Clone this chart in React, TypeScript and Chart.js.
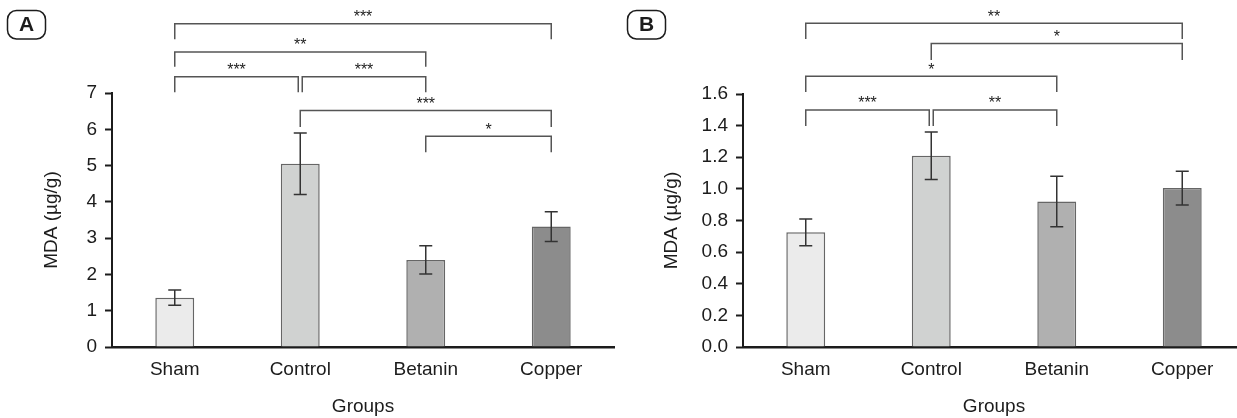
import { useEffect, useRef } from 'react';
import { Chart, registerables } from 'chart.js';

Chart.register(...registerables);

// ---------- data ----------
const groups = ['Sham', 'Control', 'Betanin', 'Copper'];

const mdaA = [1.36, 5.05, 2.4, 3.32];
const errA = [0.21, 0.85, 0.39, 0.41];
const yTicksA = [0, 1, 2, 3, 4, 5, 6, 7];

const mdaB = [0.725, 1.21, 0.92, 1.005];
const errB = [0.085, 0.15, 0.16, 0.107];
const yTicksB = [0, 0.2, 0.4, 0.6, 0.8, 1.0, 1.2, 1.4, 1.6];

const barColors = ['#ebebeb', '#d0d2d1', '#b0b0b0', '#8c8c8c'];

// significance brackets: category indices, line level and leg end (in y units)
const bracketsA = [
  { from: 0, to: 3, y: 8.91, leg: 8.48, label: '***' },
  { from: 0, to: 2, y: 8.13, leg: 7.72, label: '**' },
  { from: 0, to: 1, y: 7.45, leg: 7.02, label: '***' },
  { from: 1, to: 2, y: 7.45, leg: 7.02, label: '***' },
  { from: 1, to: 3, y: 6.52, leg: 6.06, label: '***' },
  { from: 2, to: 3, y: 5.81, leg: 5.37, label: '*' },
];

const bracketsB = [
  { from: 0, to: 3, y: 2.047, leg: 1.948, label: '**' },
  { from: 1, to: 3, y: 1.92, leg: 1.815, label: '*' },
  { from: 0, to: 2, y: 1.712, leg: 1.613, label: '*' },
  { from: 0, to: 1, y: 1.499, leg: 1.398, label: '***' },
  { from: 1, to: 2, y: 1.499, leg: 1.398, label: '**' },
];

const FONT = "'Liberation Sans', Arial, Helvetica, sans-serif";
const INK = '#1c1c1c';

type Bracket = { from: number; to: number; y: number; leg: number; label: string };

type PanelOpts = {
  letter: string;
  values: number[];
  errors: number[];
  ticks: number[];
  max: number;
  fmt: (v: number) => string;
  brackets: Bracket[];
  top: number;
  axisW: number;
  padRight: number;
};

function annotPlugin(p: PanelOpts) {
  return {
    id: 'annot' + p.letter,
    afterDatasetsDraw(chart: any) {
      const ctx = chart.ctx;
      const meta = chart.getDatasetMeta(0);
      const ys = chart.scales.y;
      ctx.save();
      ctx.strokeStyle = '#333';
      ctx.lineWidth = 1.5;
      p.values.forEach((v, i) => {
        const x = meta.data[i].x;
        const yt = ys.getPixelForValue(v + p.errors[i]);
        const yb = ys.getPixelForValue(v - p.errors[i]);
        const cap = 6.5;
        ctx.beginPath();
        ctx.moveTo(x, yt);
        ctx.lineTo(x, yb);
        ctx.moveTo(x - cap, yt);
        ctx.lineTo(x + cap, yt);
        ctx.moveTo(x - cap, yb);
        ctx.lineTo(x + cap, yb);
        ctx.stroke();
      });
      ctx.restore();
    },
    afterDraw(chart: any) {
      const ctx = chart.ctx;
      const meta = chart.getDatasetMeta(0);
      const ys = chart.scales.y;
      ctx.save();
      // brackets
      p.brackets.forEach((b) => {
        let x1 = meta.data[b.from].x;
        let x2 = meta.data[b.to].x;
        if (p.brackets.some((o) => o !== b && o.to === b.from && o.y === b.y)) x1 += 2;
        if (p.brackets.some((o) => o !== b && o.from === b.to && o.y === b.y)) x2 -= 2;
        const yl = ys.getPixelForValue(b.y);
        const yg = ys.getPixelForValue(b.leg);
        ctx.strokeStyle = '#555';
        ctx.lineWidth = 1.5;
        ctx.beginPath();
        ctx.moveTo(x1, yg);
        ctx.lineTo(x1, yl);
        ctx.lineTo(x2, yl);
        ctx.lineTo(x2, yg);
        ctx.stroke();
        ctx.fillStyle = INK;
        ctx.font = `16px ${FONT}`;
        ctx.textAlign = 'center';
        ctx.textBaseline = 'alphabetic';
        ctx.fillText(b.label, (x1 + x2) / 2, yl - 1.5);
      });
      // panel letter
      ctx.strokeStyle = INK;
      ctx.lineWidth = 1.5;
      ctx.beginPath();
      (ctx as any).roundRect(7.5, 10.5, 38, 28.5, 9);
      ctx.stroke();
      ctx.fillStyle = INK;
      ctx.font = `bold 21px ${FONT}`;
      ctx.textAlign = 'center';
      ctx.textBaseline = 'middle';
      ctx.fillText(p.letter, 26.5, 25.5);
      ctx.restore();
    },
  };
}

function buildConfig(p: PanelOpts): any {
  return {
    type: 'bar',
    data: {
      labels: groups,
      datasets: [
        {
          data: p.values,
          backgroundColor: barColors,
          borderColor: '#666',
          borderWidth: 1.5,
          categoryPercentage: 1,
          barPercentage: 0.31,
        },
      ],
    },
    options: {
      animation: false,
      responsive: false,
      devicePixelRatio: 1,
      layout: { padding: { top: p.top, right: p.padRight, left: 0, bottom: 0 } },
      plugins: { legend: { display: false }, tooltip: { enabled: false } },
      scales: {
        x: {
          grid: { display: false },
          border: { display: true, color: INK, width: 2.5 },
          ticks: { color: INK, font: { family: FONT, size: 19 }, padding: 3 },
          title: {
            display: true,
            text: 'Groups',
            color: INK,
            font: { family: FONT, size: 19 },
            padding: { top: 0, bottom: 0 },
          },
          afterFit: (s: any) => {
            s.height = 71;
          },
        },
        y: {
          min: 0,
          max: p.max,
          afterBuildTicks: (s: any) => {
            s.ticks = p.ticks.map((v) => ({ value: v }));
          },
          ticks: {
            color: INK,
            font: { family: FONT, size: 19 },
            padding: 8,
            callback: (v: any) => p.fmt(Number(v)),
          },
          grid: {
            display: true,
            drawOnChartArea: false,
            drawTicks: true,
            tickLength: 7,
            tickColor: INK,
            tickWidth: 2,
          },
          border: { display: true, color: INK, width: 2 },
          title: {
            display: true,
            text: 'MDA (µg/g)',
            color: INK,
            font: { family: FONT, size: 19 },
            padding: { top: 40, bottom: 0 },
          },
          afterFit: (s: any) => {
            s.width = p.axisW;
          },
        },
      },
    },
    plugins: [annotPlugin(p)],
  };
}

function Panel({ opts, left, width }: { opts: PanelOpts; left: number; width: number }) {
  const ref = useRef<HTMLCanvasElement | null>(null);
  useEffect(() => {
    if (!ref.current) return;
    const chart = new Chart(ref.current, buildConfig(opts));
    return () => chart.destroy();
  }, []);
  return (
    <canvas
      ref={ref}
      width={width}
      height={418}
      style={{ position: 'absolute', left, top: 0, width, height: 418 }}
    />
  );
}

const panelA: PanelOpts = {
  letter: 'A',
  values: mdaA,
  errors: errA,
  ticks: yTicksA,
  max: 7,
  fmt: (v) => String(v),
  brackets: bracketsA,
  top: 93,
  axisW: 112,
  padRight: 6,
};

const panelB: PanelOpts = {
  letter: 'B',
  values: mdaB,
  errors: errB,
  ticks: yTicksB,
  max: 1.6,
  fmt: (v) => v.toFixed(1),
  brackets: bracketsB,
  top: 94,
  axisW: 123,
  padRight: 5,
};

export default function App() {
  return (
    <div
      style={{
        position: 'absolute',
        left: 0,
        top: 0,
        width: 1237,
        height: 418,
        overflow: 'hidden',
        background: '#fff',
      }}
    >
      <Panel opts={panelA} left={0} width={620} />
      <Panel opts={panelB} left={620} width={630} />
    </div>
  );
}
